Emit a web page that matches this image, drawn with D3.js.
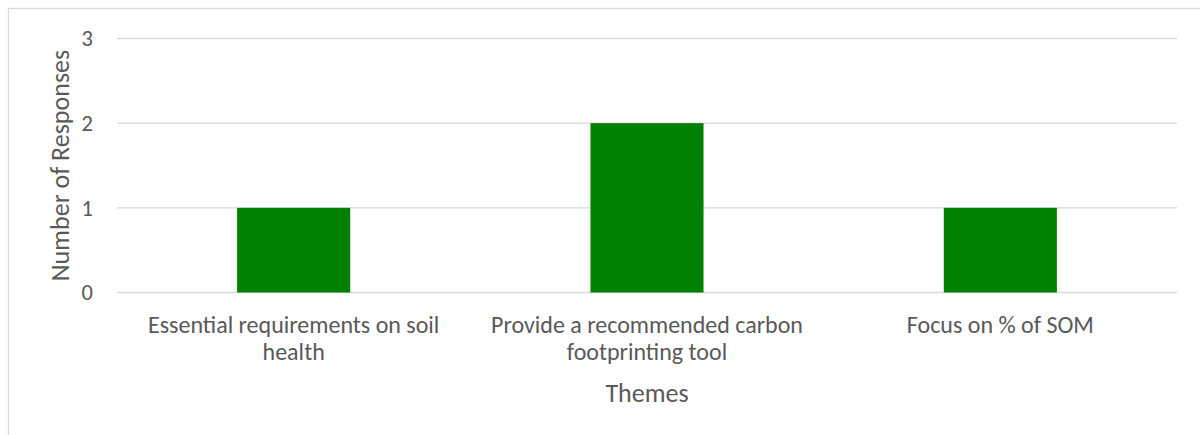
<!DOCTYPE html>
<html>
<head>
<meta charset="utf-8">
<script src="https://cdn.jsdelivr.net/npm/d3@7"></script>
<style>
  html, body { margin: 0; padding: 0; background: #fff; }
  svg text { font-family: Carlito, Calibri, "Open Sans", sans-serif; fill: #595959; }
</style>
</head>
<body>
<svg id="chart" width="1200" height="435"></svg>
<script>
// Survey themes and response counts
const categories = [
  "Essential requirements on soil health",
  "Provide a recommended carbon footprinting tool",
  "Focus on % of SOM"
];
const responses = [1, 2, 1];
const yTicks = [0, 1, 2, 3];
const yTitle = "Number of Responses";
const xTitle = "Themes";

const svg = d3.select("#chart");
const W = 1200, H = 435;
const margin = { top: 38.5, right: 23, bottom: 142.5, left: 117 };
const innerW = W - margin.left - margin.right;
const innerH = H - margin.top - margin.bottom;

// chart frame
svg.append("rect")
  .attr("x", 8.5).attr("y", 8.5)
  .attr("width", W).attr("height", H)
  .attr("fill", "#fff")
  .attr("stroke", "#d9d9d9")
  .attr("stroke-width", 1.3);

const g = svg.append("g").attr("transform", `translate(${margin.left},${margin.top})`);

const x = d3.scaleBand().domain(categories).range([0, innerW]).paddingInner(0.68).paddingOuter(0.34);
const y = d3.scaleLinear().domain([0, 3]).range([innerH, 0]);

// gridlines
g.append("g")
  .selectAll("line")
  .data(yTicks)
  .join("line")
  .attr("x1", 0).attr("x2", innerW)
  .attr("y1", d => y(d)).attr("y2", d => y(d))
  .attr("stroke", "#d9d9d9")
  .attr("stroke-width", 1.3);

// y axis labels
const yAxis = d3.axisLeft(y).tickValues(yTicks).tickSize(0).tickPadding(24).tickFormat(d3.format("d"));
g.append("g").call(yAxis)
  .call(s => s.select(".domain").remove())
  .selectAll("text")
  .style("font-size", "22.5px")
  .attr("fill", "#595959");

// bars
g.append("g")
  .selectAll("rect")
  .data(categories)
  .join("rect")
  .attr("x", d => x(d))
  .attr("width", x.bandwidth())
  .attr("y", (d, i) => y(responses[i]))
  .attr("height", (d, i) => y(0) - y(responses[i]))
  .attr("fill", "#008000");

// category labels, wrapped to the category slot
const slot = innerW / categories.length;
const xAxis = d3.axisBottom(x).tickSize(0).tickPadding(0);
const xg = g.append("g").attr("transform", `translate(0,${innerH})`).call(xAxis);
xg.select(".domain").remove();
xg.selectAll("text")
  .style("font-size", "24px")
  .attr("fill", "#595959")
  .each(function(d) {
    const t = d3.select(this);
    t.text(null).attr("y", 0).attr("dy", null);
    const words = d.split(" ");
    let lines = [], line = [];
    const tmp = t.append("tspan");
    for (const w of words) {
      line.push(w);
      tmp.text(line.join(" "));
      if (tmp.node().getComputedTextLength() > slot - 25 && line.length > 1) {
        line.pop();
        lines.push(line.join(" "));
        line = [w];
      }
    }
    lines.push(line.join(" "));
    tmp.remove();
    lines.forEach((l, i) => {
      t.append("tspan").attr("x", 0).attr("y", 40 + i * 27.5).text(l);
    });
  });

// axis titles
svg.append("text")
  .attr("transform", `translate(69,${margin.top + innerH / 2}) rotate(-90)`)
  .attr("text-anchor", "middle")
  .style("font-size", "26px")
  .text(yTitle);

svg.append("text")
  .attr("x", margin.left + innerW / 2)
  .attr("y", 402)
  .attr("text-anchor", "middle")
  .style("font-size", "26px")
  .text(xTitle);
</script>
</body>
</html>
